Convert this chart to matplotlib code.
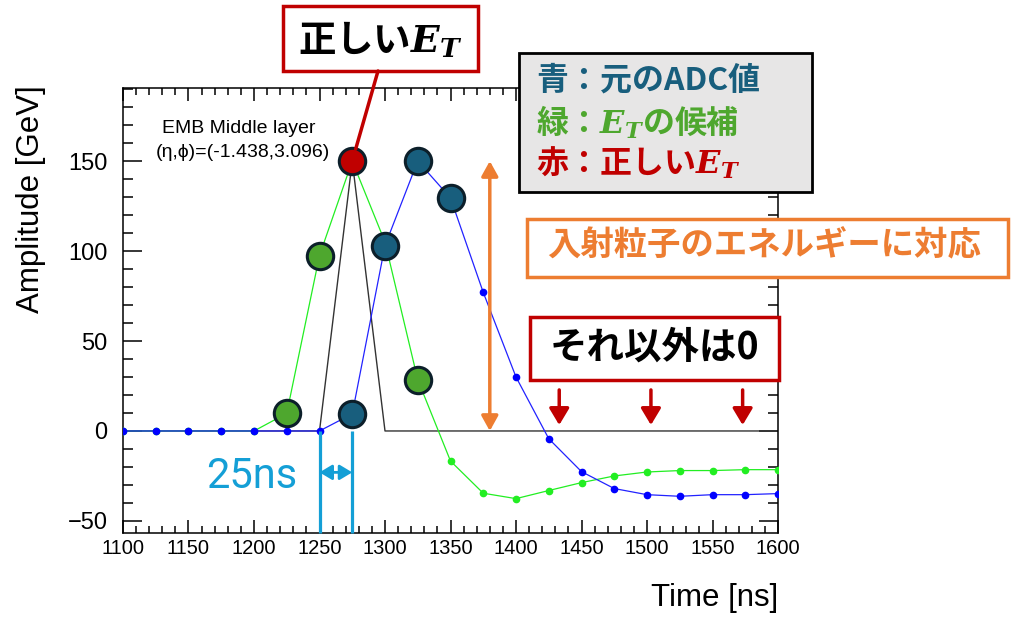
import matplotlib
matplotlib.use("Agg")
import matplotlib.pyplot as plt
from matplotlib.patches import Rectangle, ConnectionPatch
from matplotlib.ticker import MultipleLocator

plt.rcParams['font.family'] = ['Liberation Sans', 'DejaVu Sans']
plt.rcParams['mathtext.fontset'] = 'dejavuserif'

# pulse samples, 25 ns apart
time_ns = [1100, 1125, 1150, 1175, 1200, 1225, 1250, 1275, 1300, 1325, 1350,
           1375, 1400, 1425, 1450, 1475, 1500, 1525, 1550, 1575, 1600]
adc = [0, 0, 0, 0, 0, 0, 0, 9.5, 103, 150, 129.5,
       77, 30, -4.3, -22.6, -32, -35.4, -36.3, -35.4, -35.4, -34.8]
et_cand = [0, 0, 0, 0, 0, 9.8, 97.5, 150, 105, 28.5, -16.7,
           -34.6, -37.6, -33.1, -28.7, -25, -22.8, -22, -22, -21.5, -21.5]
true_et = [0, 0, 0, 0, 0, 0, 0, 150, 0, 0, 0,
           0, 0, 0, 0, 0, 0, 0, 0, 0, 0]

# samples drawn as big circles
adc_hl = [1275, 1300, 1325, 1350]
cand_hl = [1225, 1250, 1325]
true_hl = [1275]

zero_arrow_t = [1433, 1503, 1573]
energy_arrow_t = 1380
bx_edges = [1250, 1275]

c_blue = '#185e7d'
c_green = '#4ea72e'
c_red = '#c00000'
c_orange = '#ed7d31'
c_cyan = '#149fd6'
c_edge = '#0c1f2a'
jp = ['Noto Sans CJK JP', 'DejaVu Sans']
ET = r'$\mathbfit{E}_{\mathbfit{T}}$'

W, H = 1013, 617
fig = plt.figure(figsize=(W / 100, H / 100), dpi=100)
ax = fig.add_axes([123 / W, 1 - 533 / H, 655 / W, 445 / H])

ax.plot(time_ns, true_et, color='#333333', lw=1.0, zorder=2)
ax.plot(time_ns, et_cand, color='#22ee22', lw=0.9, marker='o', ms=4.5,
        mfc='#22ee22', mec='#22ee22', zorder=3)
ax.plot(time_ns, adc, color='#2222ff', lw=0.9, marker='o', ms=4.5,
        mfc='#0000ff', mec='#0000ff', zorder=4)

big = dict(ls='none', marker='o', ms=19, mew=2.2, mec=c_edge, zorder=6)
ax.plot(adc_hl, [adc[time_ns.index(t)] for t in adc_hl], mfc=c_blue, **big)
ax.plot(cand_hl, [et_cand[time_ns.index(t)] for t in cand_hl], mfc=c_green, **big)
ax.plot(true_hl, [true_et[time_ns.index(t)] for t in true_hl], mfc=c_red, **big)

ax.set_xlim(1100, 1600)
ax.set_ylim(-56.7, 190.6)
ax.xaxis.set_major_locator(MultipleLocator(50))
ax.xaxis.set_minor_locator(MultipleLocator(10))
ax.yaxis.set_major_locator(MultipleLocator(50))
ax.yaxis.set_minor_locator(MultipleLocator(10))
ax.tick_params(which='both', direction='in', top=True, right=True, width=1.1)
ax.tick_params(axis='y', which='major', length=14, labelsize=17, pad=11)
ax.tick_params(axis='y', which='minor', length=7)
ax.tick_params(axis='x', which='major', length=9.5, labelsize=14.5, pad=4)
ax.tick_params(axis='x', which='minor', length=5)
for sp in ax.spines.values():
    sp.set_linewidth(1.1)

ax.text(1130, 168, 'EMB Middle layer', fontsize=14, va='center')
ax.text(1125, 155, '(η,ϕ)=(-1.438,3.096)', fontsize=14, va='center')

# bunch-crossing spacing
ax.vlines(bx_edges, ax.get_ylim()[0], 0, color=c_cyan, lw=2.3, zorder=5, clip_on=False)
ax.annotate('', xy=(bx_edges[1], -23), xytext=(bx_edges[0], -23),
            arrowprops=dict(arrowstyle='<|-|>,head_length=0.5,head_width=0.3',
                            mutation_scale=15, color=c_cyan, lw=2, shrinkA=0, shrinkB=0))

# energy range arrow
ax.annotate('', xy=(energy_arrow_t, 150), xytext=(energy_arrow_t, 0),
            arrowprops=dict(arrowstyle='<|-|>,head_length=0.45,head_width=0.25',
                            mutation_scale=20, color=c_orange, lw=2.5,
                            shrinkA=0, shrinkB=0), zorder=5)
for t in zero_arrow_t:
    ax.annotate('', xy=(t, 3.3), xytext=(t, 22.8),
                arrowprops=dict(arrowstyle='-|>,head_length=0.5,head_width=0.3',
                                mutation_scale=20, color=c_red, lw=2.5,
                                shrinkA=0, shrinkB=0), zorder=5)

# overlay in pixel units for labels and callouts
ov = fig.add_axes([0, 0, 1, 1], zorder=5)
ov.set_xlim(0, W)
ov.set_ylim(H, 0)
ov.axis('off')

ov.text(46, 85, 'Amplitude [GeV]', fontsize=22.5, rotation=90,
        ha='right', va='bottom', rotation_mode='anchor')
ov.text(778, 598, 'Time [ns]', fontsize=22.5, ha='right', va='center')
ov.text(252, 477, '25ns', fontsize=30, color=c_cyan, ha='center', va='center',
        family=['Roboto', 'DejaVu Sans'])

ov.add_patch(Rectangle((283, 6), 195, 65, fc='white', ec=c_red, lw=2.5))
ov.text(380, 40, '正しい' + ET, fontsize=27, weight='bold', family=jp,
        ha='center', va='center')
fig.add_artist(ConnectionPatch(xyA=(378, 71), coordsA=ov.transData,
                               xyB=(1275, 150), coordsB=ax.transData,
                               color=c_red, lw=2.5, shrinkB=9, zorder=7))

ov.add_patch(Rectangle((519, 53), 293, 139, fc='#e7e6e6', ec='black', lw=2))
legend_lines = [('青：元のADC値', c_blue), ('緑：' + ET + 'の候補', c_green),
                ('赤：正しい' + ET, c_red)]
for i, (s, c) in enumerate(legend_lines):
    ov.text(536, 81 + 41 * i, s, fontsize=23, weight='bold', family=jp,
            color=c, va='center')

ov.add_patch(Rectangle((527, 219), 481, 58, fc='white', ec=c_orange, lw=2.5))
ov.text(547, 246, '入射粒子のエネルギーに対応', fontsize=24, weight='bold',
        family=jp, color=c_orange, va='center')

ov.add_patch(Rectangle((530, 317), 249, 63, fc='white', ec=c_red, lw=2.5))
ov.text(654, 347, 'それ以外は0', fontsize=27, weight='bold', family=jp,
        ha='center', va='center')

fig.savefig('out.png', dpi=100)
